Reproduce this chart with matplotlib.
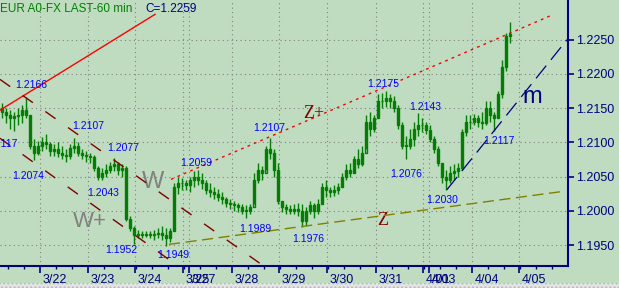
import numpy as np
import matplotlib
matplotlib.use('Agg')
import matplotlib.pyplot as plt
import matplotlib.transforms as mtransforms
from matplotlib.patches import Rectangle

plt.rcParams['font.family'] = ['Liberation Sans', 'DejaVu Sans']

bar_high = [
    1.2158, 1.2150, 1.2148, 1.2145, 1.2150, 1.2155, 1.2166, 1.2140,
    1.2105, 1.2102, 1.2108, 1.2112, 1.2100, 1.2098, 1.2100, 1.2095,
    1.2090, 1.2098, 1.2107, 1.2100, 1.2090, 1.2088, 1.2085, 1.2082,
    1.2065, 1.2062, 1.2068, 1.2072, 1.2077, 1.2072, 1.2068, 1.2065,
    1.1992, 1.1978, 1.1972, 1.1970, 1.1970, 1.1970, 1.1972, 1.1975,
    1.1978, 1.1975, 1.1975, 1.2040, 1.2050, 1.2048, 1.2045, 1.2050,
    1.2058, 1.2059, 1.2055, 1.2045, 1.2040, 1.2035, 1.2032, 1.2028,
    1.2020, 1.2018, 1.2015, 1.2012, 1.2010, 1.2008, 1.2010, 1.2055,
    1.2070, 1.2065, 1.2095, 1.2107, 1.2090, 1.2070, 1.2015, 1.2010,
    1.2008, 1.2010, 1.2012, 1.2010, 1.2005, 1.2015, 1.2012, 1.2018,
    1.2040, 1.2045, 1.2035, 1.2038, 1.2040, 1.2055, 1.2068, 1.2070,
    1.2080, 1.2090, 1.2095, 1.2140, 1.2145, 1.2140, 1.2170, 1.2172,
    1.2175, 1.2170, 1.2168, 1.2155, 1.2130, 1.2110, 1.2120, 1.2130,
    1.2143, 1.2135, 1.2130, 1.2125, 1.2110, 1.2095, 1.2070, 1.2060,
    1.2065, 1.2068, 1.2070, 1.2120, 1.2140, 1.2140, 1.2142, 1.2140,
    1.2145, 1.2160, 1.2160, 1.2145, 1.2175, 1.2220, 1.2260, 1.2276,
]
bar_low = [
    1.2136, 1.2128, 1.2120, 1.2117, 1.2125, 1.2128, 1.2135, 1.2090,
    1.2074, 1.2082, 1.2088, 1.2090, 1.2080, 1.2080, 1.2078, 1.2075,
    1.2072, 1.2075, 1.2085, 1.2080, 1.2075, 1.2072, 1.2070, 1.2058,
    1.2045, 1.2045, 1.2050, 1.2055, 1.2058, 1.2052, 1.2050, 1.1985,
    1.1970, 1.1952, 1.1960, 1.1960, 1.1962, 1.1960, 1.1958, 1.1960,
    1.1958, 1.1949, 1.1955, 1.1970, 1.2025, 1.2030, 1.2030, 1.2028,
    1.2035, 1.2038, 1.2032, 1.2025, 1.2020, 1.2018, 1.2015, 1.2010,
    1.2005, 1.2003, 1.2000, 1.1998, 1.1995, 1.1989, 1.1995, 1.2010,
    1.2040, 1.2045, 1.2060, 1.2075, 1.2050, 1.2010, 1.1998, 1.1995,
    1.1995, 1.1996, 1.1992, 1.1976, 1.1978, 1.1995, 1.1990, 1.1995,
    1.2010, 1.2020, 1.2020, 1.2022, 1.2025, 1.2035, 1.2045, 1.2050,
    1.2055, 1.2062, 1.2065, 1.2090, 1.2110, 1.2115, 1.2135, 1.2150,
    1.2152, 1.2150, 1.2145, 1.2120, 1.2090, 1.2076, 1.2090, 1.2095,
    1.2110, 1.2115, 1.2112, 1.2100, 1.2085, 1.2065, 1.2040, 1.2030,
    1.2040, 1.2045, 1.2050, 1.2060, 1.2110, 1.2120, 1.2125, 1.2122,
    1.2120, 1.2125, 1.2130, 1.2117, 1.2135, 1.2165, 1.2205, 1.2245,
]
bar_close = [
    1.2145, 1.2140, 1.2135, 1.2138, 1.2140, 1.2148, 1.2140, 1.2095,
    1.2085, 1.2095, 1.2100, 1.2098, 1.2088, 1.2090, 1.2085, 1.2082,
    1.2080, 1.2092, 1.2095, 1.2085, 1.2082, 1.2080, 1.2078, 1.2062,
    1.2050, 1.2055, 1.2060, 1.2065, 1.2068, 1.2060, 1.2062, 1.1988,
    1.1975, 1.1965, 1.1966, 1.1965, 1.1966, 1.1964, 1.1966, 1.1968,
    1.1965, 1.1960, 1.1970, 1.2035, 1.2040, 1.2040, 1.2038, 1.2045,
    1.2050, 1.2045, 1.2040, 1.2030, 1.2028, 1.2025, 1.2020, 1.2018,
    1.2012, 1.2010, 1.2008, 1.2005, 1.2000, 1.2000, 1.2005, 1.2045,
    1.2060, 1.2055, 1.2090, 1.2085, 1.2060, 1.2015, 1.2005, 1.2002,
    1.2000, 1.2002, 1.2000, 1.1985, 1.2000, 1.2008, 1.2000, 1.2010,
    1.2035, 1.2030, 1.2028, 1.2030, 1.2035, 1.2050, 1.2060, 1.2055,
    1.2075, 1.2068, 1.2085, 1.2130, 1.2120, 1.2135, 1.2160, 1.2160,
    1.2165, 1.2160, 1.2150, 1.2125, 1.2095, 1.2095, 1.2105, 1.2120,
    1.2125, 1.2125, 1.2118, 1.2105, 1.2090, 1.2070, 1.2050, 1.2045,
    1.2055, 1.2058, 1.2062, 1.2115, 1.2130, 1.2130, 1.2135, 1.2130,
    1.2128, 1.2150, 1.2140, 1.2135, 1.2170, 1.2210, 1.2255, 1.2259,
]
first_open = 1.2150

# day boundaries (hours from chart start) and their labels
day_hours = [20, 44, 67.5, 91.5, 94.5, 116, 139.5, 163.5, 188, 211.5, 214.5, 236, 259.5]
day_labels = ['3/22', '3/23', '3/24', '3/25', '3/27', '3/28', '3/29', '3/30',
              '3/31', '4/01', '4/03', '4/04', '4/05']
price_ticks = [1.1950, 1.2000, 1.2050, 1.2100, 1.2150, 1.2200, 1.2250]

# trend lines: (hours, prices)
red_line_t, red_line_p = [0, 77.5], [1.2147, 1.2287]
zplus_t, zplus_p = [85.5, 276], [1.2046, 1.2286]
z_t, z_p = [84.5, 280.5], [1.1951, 1.2028]
w_upper_t, w_upper_p = [0, 132.5], [1.2192, 1.1918]
w_lower_t, w_lower_p = [0, 92.5], [1.2106, 1.1912]
m_t, m_p = [223.5, 283.5], [1.2031, 1.2250]

# pivot labels
pivot_text = ['1.2166', '1.2107', '1.2117', '1.2077', '1.2074', '1.2043', '1.2059',
              '1.2107', '1.2175', '1.2143', '1.2076', '1.2117', '1.2030', '1.1989',
              '1.1976', '1.1952', '1.1949']
pivot_t = [7.5, 36, -7, 53.5, 6, 43.5, 90, 126.5, 183.5, 204.5, 195, 241.5, 213,
           119.5, 146, 52.5, 78.5]
pivot_p = [1.2180, 1.2119, 1.2093, 1.2088, 1.2047, 1.2021, 1.2065, 1.2117, 1.2181,
           1.2148, 1.2050, 1.2098, 1.2012, 1.1969, 1.1954, 1.1938, 1.1931]

bg = '#c0dcc0'
navy = '#000080'
green = '#008000'

fig = plt.figure(figsize=(6.19, 2.88), dpi=100, facecolor=bg)
ax = fig.add_axes([0, 22/288, 568/619, 266/288], facecolor=bg)

t = 1 + 2*np.arange(len(bar_close))
close = np.array(bar_close)
opn = np.concatenate([[first_open], close[:-1]])
body_lo = np.minimum(opn, close)
body_h = np.maximum(np.abs(close - opn), 0.00005)

ax.vlines(t, bar_low, bar_high, color=green, lw=1.0, zorder=3)
ax.bar(t, body_h, bottom=body_lo, width=1.4, fill=False, edgecolor=green,
       lw=1.0, zorder=3)

# trend lines
ax.plot(red_line_t, red_line_p, color='#ff0000', lw=1.0, zorder=4)
ax.plot(zplus_t, zplus_p, color='#ff0000', lw=1.0, ls=(0, (2, 3)), zorder=4)
ax.plot(z_t, z_p, color='#808000', lw=1.0, ls=(0, (8, 4)), zorder=4)
ax.plot(w_upper_t, w_upper_p, color='#800000', lw=1.0, ls=(0, (9, 11)), zorder=4)
ax.plot(w_lower_t, w_lower_p, color='#800000', lw=1.0, ls=(0, (9, 11)), zorder=4)
ax.plot(m_t, m_p, color=navy, lw=0.9, ls=(0, (13, 6)), zorder=4)

for s, x, y in zip(pivot_text, pivot_t, pivot_p):
    ax.text(x, y, s, color='#0000ff', fontsize=7.5, va='baseline', ha='left', zorder=5)

ax.text(71, 1.2034, 'W', color='#808080', fontsize=17, va='baseline')
ax.text(36.5, 1.1976, 'W+', color='#808080', fontsize=16, va='baseline')
ax.text(151.5, 1.2136, 'Z+', color='#800000', fontsize=13, va='baseline',
        family='Liberation Serif')
ax.text(188.5, 1.1980, 'Z', color='#800000', fontsize=13, va='baseline',
        family='Liberation Serif')
ax.text(261, 1.2158, 'm', color=navy, fontsize=17, va='baseline')

ax.set_xlim(0, 284)
ax.set_ylim(1.19194, 1.2308)

ax.set_xticks(day_hours)
ax.set_xticklabels(day_labels)
ax.set_xticks(np.arange(4, 284, 8), minor=True)
ax.set_yticks(price_ticks)
ax.set_yticklabels(['%.4f' % v for v in price_ticks])
ax.yaxis.tick_right()

ax.tick_params(axis='x', which='major', length=5, width=1.2, color=navy,
               labelcolor=navy, labelsize=9, pad=0.5)
ax.tick_params(axis='x', which='minor', length=2.5, width=1.0, color=navy)
ax.tick_params(axis='y', length=4, width=1.2, color=navy, labelcolor=navy,
               labelsize=9, pad=2)

# labels sit right of their tick, like the original
shift = mtransforms.ScaledTranslation(0.03, 0, fig.dpi_scale_trans)
for lbl in ax.get_xticklabels():
    lbl.set_ha('left')
    lbl.set_transform(lbl.get_transform() + shift)

ax.grid(True, which='major', color='#808080', ls=(0, (1, 3)), lw=0.8, zorder=1)

for side in ['left', 'top']:
    ax.spines[side].set_visible(False)
for side in ['right', 'bottom']:
    ax.spines[side].set_color(navy)
    ax.spines[side].set_linewidth(1.5)

fig.text(0, 1 - 12/288, 'EUR A0-FX LAST-60 min', color=green, fontsize=8.5,
         va='baseline', ha='left')
fig.text(145/619, 1 - 12/288, 'C=1.2259', color=navy, fontsize=8.5,
         va='baseline', ha='left')

# scrollbar strip at the bottom
fig.patches.append(Rectangle((0, 0), 1, 5/288, transform=fig.transFigure,
                             facecolor='#e4e4e4', edgecolor='#b8b8b8',
                             hatch='....', lw=0))

fig.savefig('out.png', dpi=100, facecolor=bg)
